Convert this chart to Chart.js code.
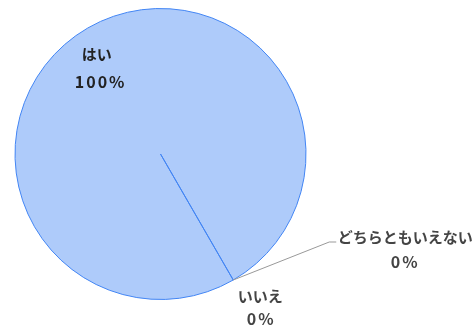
<!DOCTYPE html>
<html>
<head>
<meta charset="utf-8">
<script src="https://cdn.jsdelivr.net/npm/chart.js@4"></script>
<style>
  html, body { margin: 0; padding: 0; background: #fff; }
  #wrap { width: 473px; height: 332px; position: relative; }
</style>
</head>
<body>
<div id="wrap"><canvas id="pie"></canvas></div>
<script>
var labels = ['はい', 'いいえ', 'どちらともいえない'];
var values = [100, 0, 0];
var pctLabels = ['100%', '0%', '0%'];

var textFont = 'bold 15px "Noto Sans CJK JP"';
var pctFont = 'bold 16px "Noto Sans CJK JP"';

// draws the slice labels (inside for the big slice, outside for the empty ones)
var sliceLabels = {
  id: 'sliceLabels',
  afterDatasetsDraw: function(chart) {
    var ctx = chart.ctx;
    var arcs = chart.getDatasetMeta(0).data;
    ctx.save();
    ctx.textAlign = 'center';
    ctx.textBaseline = 'middle';
    ctx.fillStyle = '#222';

    // big slice
    var a0 = arcs[0];
    var mid = (a0.startAngle + a0.endAngle) / 2;
    var r0 = a0.outerRadius * 0.74;
    var lx = a0.x + Math.cos(mid) * r0;
    var ly = a0.y + Math.sin(mid) * r0;
    ctx.font = textFont;
    ctx.letterSpacing = '0px';
    ctx.fillText(labels[0], lx - 10, ly - 6);
    ctx.font = pctFont;
    ctx.letterSpacing = '2px';
    ctx.fillText(pctLabels[0], lx - 6, ly + 21);

    // zero slices sit on the edge
    var a1 = arcs[1];
    var ex = a1.x + Math.cos(a1.startAngle) * a1.outerRadius;
    var ey = a1.y + Math.sin(a1.startAngle) * a1.outerRadius;

    ctx.fillStyle = '#444';
    ctx.font = textFont;
    ctx.letterSpacing = '0px';
    ctx.fillText(labels[1], ex + 27, ey + 16);
    ctx.font = pctFont;
    ctx.letterSpacing = '2px';
    ctx.fillText(pctLabels[1], ex + 28, ey + 39);

    // leader line for the third one
    ctx.strokeStyle = '#999';
    ctx.lineWidth = 1;
    ctx.beginPath();
    ctx.moveTo(ex, ey);
    ctx.lineTo(ex + 96, ey - 38);
    ctx.lineTo(ex + 103, ey - 38);
    ctx.stroke();

    ctx.font = textFont;
    ctx.letterSpacing = '0px';
    ctx.fillText(labels[2], ex + 172, ey - 43);
    ctx.font = pctFont;
    ctx.letterSpacing = '2px';
    ctx.fillText(pctLabels[2], ex + 172, ey - 18);
    ctx.restore();
  }
};

new Chart(document.getElementById('pie').getContext('2d'), {
  type: 'pie',
  data: {
    labels: labels,
    datasets: [{
      data: values,
      backgroundColor: ['#aecbfa', '#aecbfa', '#aecbfa'],
      borderColor: '#4285f4',
      borderWidth: 1
    }]
  },
  options: {
    responsive: true,
    maintainAspectRatio: false,
    animation: false,
    rotation: 150,
    layout: { padding: { left: 14, right: 166, top: 8, bottom: 32 } },
    plugins: {
      legend: { display: false },
      tooltip: { enabled: false }
    }
  },
  plugins: [sliceLabels]
});
</script>
</body>
</html>
